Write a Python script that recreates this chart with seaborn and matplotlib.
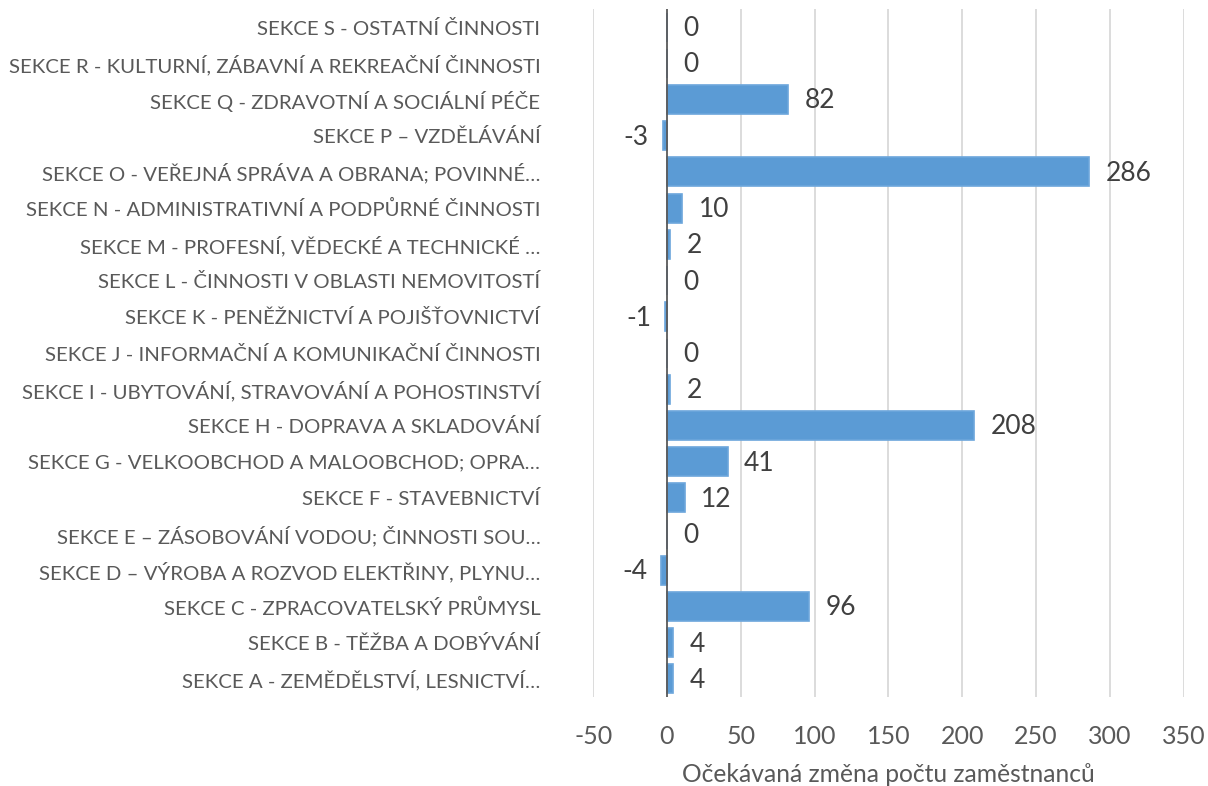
import matplotlib
matplotlib.use("Agg")
import matplotlib.pyplot as plt
import seaborn as sns
import pandas as pd

categories = [
    "SEKCE S - OSTATNÍ ČINNOSTI",
    "SEKCE R - KULTURNÍ, ZÁBAVNÍ A REKREAČNÍ ČINNOSTI",
    "SEKCE Q - ZDRAVOTNÍ A SOCIÁLNÍ PÉČE",
    "SEKCE P – VZDĚLÁVÁNÍ",
    "SEKCE O - VEŘEJNÁ SPRÁVA A OBRANA; POVINNÉ…",
    "SEKCE N - ADMINISTRATIVNÍ A PODPŮRNÉ ČINNOSTI",
    "SEKCE M - PROFESNÍ, VĚDECKÉ A TECHNICKÉ …",
    "SEKCE L - ČINNOSTI V OBLASTI NEMOVITOSTÍ",
    "SEKCE K - PENĚŽNICTVÍ A POJIŠŤOVNICTVÍ",
    "SEKCE J - INFORMAČNÍ A KOMUNIKAČNÍ ČINNOSTI",
    "SEKCE I - UBYTOVÁNÍ, STRAVOVÁNÍ A POHOSTINSTVÍ",
    "SEKCE H - DOPRAVA A SKLADOVÁNÍ",
    "SEKCE G - VELKOOBCHOD A MALOOBCHOD; OPRA…",
    "SEKCE F - STAVEBNICTVÍ",
    "SEKCE E – ZÁSOBOVÁNÍ VODOU; ČINNOSTI SOU…",
    "SEKCE D – VÝROBA A ROZVOD ELEKTŘINY, PLYNU…",
    "SEKCE C - ZPRACOVATELSKÝ PRŮMYSL",
    "SEKCE B - TĚŽBA A DOBÝVÁNÍ",
    "SEKCE A - ZEMĚDĚLSTVÍ, LESNICTVÍ…",
]
values = [0, 0, 82, -3, 286, 10, 2, 0, -1, 0, 2, 208, 41, 12, 0, -4, 96, 4, 4]
x_ticks = [-50, 0, 50, 100, 150, 200, 250, 300, 350]
x_label = "Očekávaná změna počtu zaměstnanců"

df = pd.DataFrame({"category": categories, "value": values})

sns.set_theme(style="white")
plt.rcParams["font.family"] = ["Lato", "DejaVu Sans"]

fig = plt.figure(figsize=(12.08, 7.86), dpi=100)
ax = fig.add_axes([0.491, 0.1132, 0.489, 0.8753])

sns.barplot(data=df, x="value", y="category", orient="h", order=categories,
            color="#5B9BD5", saturation=1, width=0.8, ax=ax, zorder=3,
            edgecolor="#6CA6DC", linewidth=1.2)

ax.set_xlim(-50, 350)
ax.set_xticks(x_ticks)
ax.set_xticklabels([str(t) for t in x_ticks], fontsize=18, color="#595959")
ax.tick_params(axis="x", length=0, pad=20)
ax.tick_params(axis="y", length=0, pad=38)
for lab in ax.get_yticklabels():
    lab.set_fontsize(14.7)
    lab.set_color("#595959")
ax.set_ylabel("")
ax.set_xlabel(x_label, fontsize=17.7, color="#595959", labelpad=11)

for t in x_ticks:
    if t != 0:
        ax.axvline(t, color="#D9D9D9", lw=1.3, zorder=1)
ax.axvline(0, color="#595959", lw=1.3, zorder=4)
for s in ax.spines.values():
    s.set_visible(False)

for i, v in enumerate(values):
    if v < 0:
        ax.annotate(str(v), (v, i), xytext=(-10, -1), textcoords="offset points",
                    ha="right", va="center", fontsize=19, color="#404040")
    else:
        ax.annotate(str(v), (v, i), xytext=(12, -1), textcoords="offset points",
                    ha="left", va="center", fontsize=19, color="#404040")

fig.savefig("out.png", dpi=100)
